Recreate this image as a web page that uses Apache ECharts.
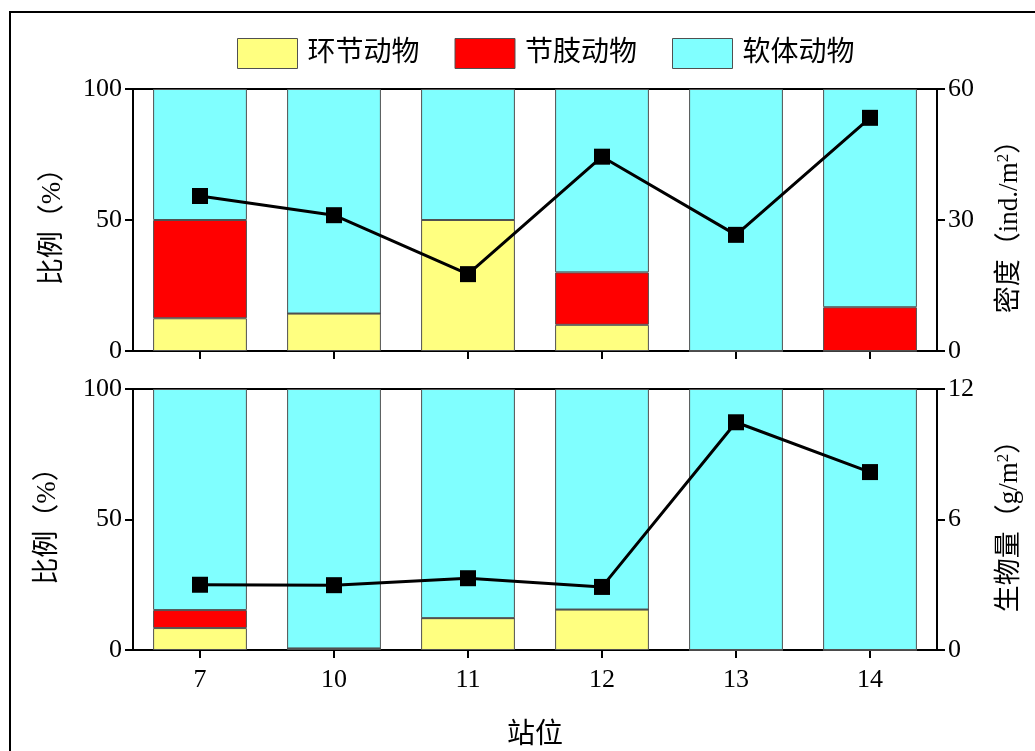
<!DOCTYPE html>
<html>
<head>
<meta charset="utf-8">
<script src="https://cdn.jsdelivr.net/npm/echarts@6/dist/echarts.min.js"></script>
<style>
  html, body { margin: 0; padding: 0; background: #fff; }
  #chart { width: 1035px; height: 751px; }
</style>
</head>
<body>
<div id="chart"></div>
<script>
// Stations along the x axis
const stations = ['7', '10', '11', '12', '13', '14'];

// Composition by abundance (%), upper panel
const abundAnnelida = [12.5, 14.3, 50, 10, 0, 0];
const abundArthropoda = [37.5, 0, 0, 20, 0, 16.7];
const abundMollusca = [50, 85.7, 50, 70, 100, 83.3];
// Density (ind./m²), upper panel line
const density = [35.5, 31.1, 17.6, 44.5, 26.6, 53.4];

// Composition by biomass (%), lower panel
const bioAnnelida = [8.4, 0.6, 12.2, 15.5, 0, 0];
const bioArthropoda = [6.9, 0, 0, 0, 0, 0];
const bioMollusca = [84.7, 99.4, 87.8, 84.5, 100, 100];
// Biomass (g/m²), lower panel line
const biomass = [3.0, 2.98, 3.3, 2.9, 10.47, 8.18];

// Axis tick settings
const pctTicks = { min: 0, max: 100, interval: 50 };
const densityTicks = { min: 0, max: 60, interval: 30 };
const biomassTicks = { min: 0, max: 12, interval: 6 };

const groupNames = ['环节动物', '节肢动物', '软体动物'];
const groupColors = ['#FFFF80', '#FF0000', '#80FFFF'];

const FONT = "'Liberation Serif', 'Noto Sans CJK SC', serif";
const chart = echarts.init(document.getElementById('chart'));

const axisLine = { show: true, lineStyle: { color: '#000', width: 2 } };
const axisTick = { show: true, inside: false, length: 8, lineStyle: { color: '#000', width: 2 } };
const labelStyle = { color: '#000', fontFamily: FONT, fontSize: 26 };
const nameStyle = {
  color: '#000', fontFamily: FONT, fontSize: 27,
  rich: { sup: { fontFamily: FONT, fontSize: 17, color: '#000', verticalAlign: 'top', lineHeight: 30 } }
};

function catAxis(gridIndex, showLabels) {
  return {
    type: 'category', gridIndex, data: stations, boundaryGap: true,
    axisLine, axisTick: Object.assign({ alignWithLabel: true }, axisTick),
    axisLabel: Object.assign({ show: showLabels, margin: 17, interval: 0 }, labelStyle),
    splitLine: { show: false },
    name: showLabels ? '站位' : '', nameLocation: 'middle', nameGap: 72,
    nameTextStyle: { color: '#000', fontFamily: FONT, fontSize: 28 }
  };
}

function valAxis(gridIndex, ticks, position, name, nameGap) {
  return Object.assign({
    type: 'value', gridIndex, position,
    axisLine, axisTick,
    axisLabel: Object.assign({ margin: 11 }, labelStyle),
    splitLine: { show: false },
    name, nameLocation: 'middle', nameRotate: 90, nameGap,
    nameTextStyle: nameStyle
  }, ticks);
}

function barSeries(xi, yi, stack, values, idx) {
  return {
    type: 'bar', name: groupNames[idx], stack, xAxisIndex: xi, yAxisIndex: yi,
    data: values, barWidth: '70%',
    itemStyle: { color: groupColors[idx], borderColor: '#505050', borderWidth: 1 },
    emphasis: { disabled: true }
  };
}

function lineSeries(xi, yi, values) {
  return {
    type: 'line', xAxisIndex: xi, yAxisIndex: yi, data: values,
    symbol: 'rect', symbolSize: 16, z: 5,
    lineStyle: { color: '#000', width: 3 },
    itemStyle: { color: '#000' },
    emphasis: { disabled: true }
  };
}

chart.setOption({
  animation: false,
  backgroundColor: '#fff',
  legend: {
    top: 33, left: 232,
    data: groupNames,
    itemWidth: 60, itemHeight: 30, itemGap: 35,
    icon: 'rect',
    itemStyle: { borderColor: '#505050', borderWidth: 1 },
    textStyle: { color: '#000', fontFamily: FONT, fontSize: 28, padding: [0, 0, 0, 5] }
  },
  grid: [
    { left: 133, right: 98, top: 89, height: 262, show: true, borderColor: '#000', borderWidth: 2, backgroundColor: 'transparent' },
    { left: 133, right: 98, top: 389, height: 262, show: true, borderColor: '#000', borderWidth: 2, backgroundColor: 'transparent' }
  ],
  xAxis: [catAxis(0, false), catAxis(1, true)],
  yAxis: [
    valAxis(0, pctTicks, 'left', '比例（%）', 67),
    valAxis(0, densityTicks, 'right', '密度（ind./m{sup|2}）', 58),
    valAxis(1, pctTicks, 'left', '比例（%）', 72),
    valAxis(1, biomassTicks, 'right', '生物量（g/m{sup|2}）', 58)
  ],
  series: [
    barSeries(0, 0, 'top', abundAnnelida, 0),
    barSeries(0, 0, 'top', abundArthropoda, 1),
    barSeries(0, 0, 'top', abundMollusca, 2),
    lineSeries(0, 1, density),
    barSeries(1, 2, 'bottom', bioAnnelida, 0),
    barSeries(1, 2, 'bottom', bioArthropoda, 1),
    barSeries(1, 2, 'bottom', bioMollusca, 2),
    lineSeries(1, 3, biomass)
  ],
  graphic: [{
    type: 'rect', silent: true, z: -1,
    shape: { x: 10, y: 12, width: 1040, height: 760 },
    style: { fill: 'none', stroke: '#000', lineWidth: 2 }
  }]
});
</script>
</body>
</html>
